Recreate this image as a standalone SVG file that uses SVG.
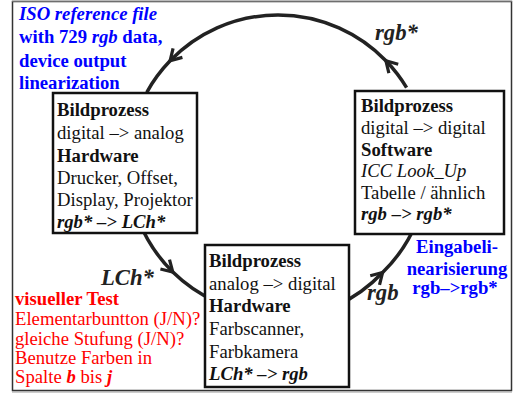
<svg xmlns="http://www.w3.org/2000/svg" width="522" height="394" viewBox="0 0 522 394">
<defs>
<style>
text{font-family:"Liberation Serif","Times New Roman",serif;font-size:18.7px;fill:#111}
.b{font-weight:bold}
.i{font-style:italic}
.bi{font-weight:bold;font-style:italic}
.lbl{font-weight:bold;font-style:italic;font-size:22.7px;fill:#222}
.blue{fill:#0000ff;font-weight:bold}
.red{fill:#ff0000}
.box{fill:#fff;stroke:#111;stroke-width:2.5}
.arc{fill:none;stroke:#222;stroke-width:3.5}
</style>
<marker id="ah" viewBox="-14 -10 18 20" markerWidth="18" markerHeight="20" refX="0" refY="0" orient="auto" markerUnits="userSpaceOnUse">
<path d="M-11,-6.5 L0,0 L-11,6.5" fill="none" stroke="#222" stroke-width="3.2"/>
</marker>
</defs>
<rect width="522" height="394" fill="#fff"/>
<rect x="12.5" y="1.5" width="499" height="389" fill="none" stroke="#333" stroke-width="1.5"/>
<line x1="12" y1="392" x2="512" y2="392" stroke="#999" stroke-width="1.2"/>
<line x1="12" y1="1" x2="512" y2="1" stroke="#aaa" stroke-width="1"/>

<g id="connectors">
<path class="arc" marker-mid="url(#ah)" d="M406.6,87.7 A150,150 0 0 0 385.9,60.8 A150,150 0 0 0 170.1,60.8 A150,150 0 0 0 146.8,92.3"/>
<path class="arc" marker-mid="url(#ah)" d="M138.9,221.2 A150,150 0 0 0 172.8,272 A150,150 0 0 0 214.6,300.9"/>
<path class="arc" marker-mid="url(#ah)" d="M336,306 A150,150 0 0 0 382.6,272.5 A150,150 0 0 0 417.1,221.2"/>
</g>

<g id="iso-note">
<text x="19" y="20" class="blue i">ISO reference file</text>
<text x="19" y="43" class="blue">with 729 <tspan class="i">rgb</tspan> data,</text>
<text x="19" y="67" class="blue">device output</text>
<text x="19" y="89" class="blue">linearization</text>
</g>

<g id="node-output">
<rect class="box" x="53" y="93" width="144" height="140"/>
<text x="57" y="116" class="b">Bildprozess</text>
<text x="57" y="139">digital –&gt; analog</text>
<text x="57" y="162" class="b">Hardware</text>
<text x="57" y="184">Drucker, Offset,</text>
<text x="57" y="206">Display, Projektor</text>
<text x="57" y="228" class="bi">rgb* –&gt; LCh*</text>
</g>

<g id="node-software">
<rect class="box" x="355" y="91" width="149" height="143"/>
<text x="361" y="112" class="b">Bildprozess</text>
<text x="361" y="134">digital –&gt; digital</text>
<text x="361" y="156" class="b">Software</text>
<text x="361" y="177" class="i">ICC Look_Up</text>
<text x="361" y="199">Tabelle / ähnlich</text>
<text x="361" y="220" class="bi">rgb –&gt; rgb*</text>
</g>

<g id="node-input">
<rect class="box" x="205" y="245" width="144" height="142"/>
<text x="209" y="267" class="b">Bildprozess</text>
<text x="209" y="290">analog –&gt; digital</text>
<text x="209" y="312" class="b">Hardware</text>
<text x="209" y="335">Farbscanner,</text>
<text x="209" y="358">Farbkamera</text>
<text x="209" y="380" class="bi">LCh* –&gt; rgb</text>
</g>

<g id="labels">
<text x="375" y="40" class="lbl">rgb*</text>
<text x="101" y="285" class="lbl">LCh*</text>
<text x="367" y="300" class="lbl">rgb</text>
</g>

<g id="input-note" text-anchor="middle">
<text x="457" y="253" class="blue">Eingabeli-</text>
<text x="457" y="275" class="blue">nearisierung</text>
<text x="455" y="294" class="blue">rgb–&gt;rgb*</text>
</g>

<g id="visual-test">
<text x="15" y="305" class="red b">visueller Test</text>
<text x="15" y="325" class="red">Elementarbuntton (J/N)?</text>
<text x="15" y="345" class="red">gleiche Stufung (J/N)?</text>
<text x="15" y="364" class="red">Benutze Farben in</text>
<text x="15" y="383" class="red">Spalte <tspan class="bi">b</tspan> bis <tspan class="bi">j</tspan></text>
</g>
</svg>
